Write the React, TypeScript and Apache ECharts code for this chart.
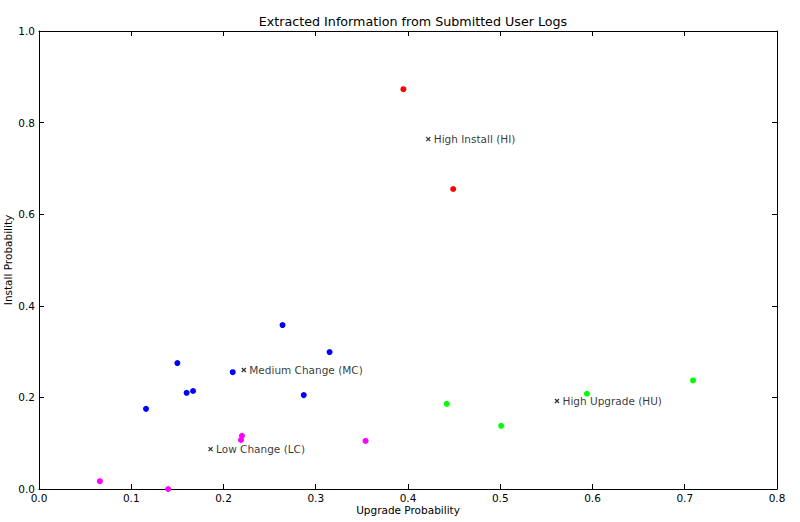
import React, { useEffect, useRef } from "react";
import * as echarts from "echarts";

const xTicks = [0, 0.1, 0.2, 0.3, 0.4, 0.5, 0.6, 0.7, 0.8];
const yTicks = [0, 0.2, 0.4, 0.6, 0.8, 1.0];

const highInstall: [number, number][] = [
  [0.395, 0.873],
  [0.449, 0.655],
];
const mediumChange: [number, number][] = [
  [0.116, 0.175],
  [0.15, 0.275],
  [0.16, 0.21],
  [0.167, 0.214],
  [0.21, 0.255],
  [0.264, 0.358],
  [0.287, 0.205],
  [0.315, 0.299],
];
const lowChange: [number, number][] = [
  [0.066, 0.017],
  [0.14, 0.0],
  [0.22, 0.116],
  [0.219, 0.107],
  [0.354, 0.105],
];
const highUpgrade: [number, number][] = [
  [0.442, 0.186],
  [0.501, 0.138],
  [0.594, 0.208],
  [0.709, 0.237],
];

const centroidNames = ["High Install (HI)", "Medium Change (MC)", "Low Change (LC)", "High Upgrade (HU)"];
const centroids: [number, number][] = [
  [0.422, 0.764],
  [0.222, 0.26],
  [0.186, 0.087],
  [0.5615, 0.192],
];

const FONT = "DejaVu Sans";

export default function App() {
  const ref = useRef<HTMLDivElement>(null);
  useEffect(() => {
    const chart = echarts.init(ref.current!, null, { renderer: "svg" });
    const axisLine = { show: true, onZero: false, lineStyle: { color: "#000", width: 1 } };
    const tick = { show: true, inside: true, length: 5, lineStyle: { color: "#000" } };
    const dotSeries = (data: [number, number][], color: string) => ({
      type: "scatter",
      data,
      symbol: "circle",
      symbolSize: 6,
      itemStyle: { color, opacity: 1 },
      xAxisIndex: 0,
      yAxisIndex: 0,
    });
    chart.setOption({
      animation: false,
      backgroundColor: "#fff",
      title: {
        text: "Extracted Information from Submitted User Logs",
        left: 408,
        textAlign: "center",
        top: 10,
        textStyle: { fontFamily: FONT, fontSize: 12.7, fontWeight: "normal", color: "#000" },
      },
      grid: { left: 39, right: 23, top: 31, bottom: 33, containLabel: false, outerBoundsMode: "none" },
      xAxis: [
        {
          type: "value",
          min: 0,
          max: 0.8,
          interval: 0.1,
          position: "bottom",
          name: "Upgrade Probability",
          nameLocation: "middle",
          nameGap: 15,
          nameMoveOverlap: false,
          nameTextStyle: { fontFamily: FONT, fontSize: 10.5, color: "#000" },
          axisLine,
          axisTick: tick,
          splitLine: { show: false },
          axisLabel: {
            fontFamily: FONT,
            fontSize: 10.5,
            color: "#000",
            margin: 3,
            formatter: (v: number) => {
              const t = xTicks.find((k) => Math.abs(k - v) < 1e-6);
              return t === undefined ? "" : t.toFixed(1);
            },
          },
        },
        {
          type: "value",
          min: 0,
          max: 0.8,
          interval: 0.1,
          position: "top",
          axisLine,
          axisTick: tick,
          axisLabel: { show: false },
          splitLine: { show: false },
        },
      ],
      yAxis: [
        {
          type: "value",
          min: 0,
          max: 1,
          interval: 0.2,
          position: "left",
          name: "Install Probability",
          nameLocation: "middle",
          nameGap: 26,
          nameMoveOverlap: false,
          nameRotate: 90,
          nameTextStyle: { fontFamily: FONT, fontSize: 10.5, color: "#000" },
          axisLine,
          axisTick: tick,
          splitLine: { show: false },
          axisLabel: {
            fontFamily: FONT,
            fontSize: 10.5,
            color: "#000",
            margin: 4,
            formatter: (v: number) => {
              const t = yTicks.find((k) => Math.abs(k - v) < 1e-6);
              return t === undefined ? "" : t.toFixed(1);
            },
          },
        },
        {
          type: "value",
          min: 0,
          max: 1,
          interval: 0.2,
          position: "right",
          axisLine,
          axisTick: tick,
          axisLabel: { show: false },
          splitLine: { show: false },
        },
      ],
      series: [
        dotSeries(highInstall, "#ff0000"),
        dotSeries(mediumChange, "#0000ff"),
        dotSeries(lowChange, "#ff00ff"),
        dotSeries(highUpgrade, "#00ff00"),
        {
          type: "scatter",
          data: centroids.map((c, i) => ({ value: c, name: centroidNames[i] })),
          symbol: "path://M0,0L10,10M10,0L0,10",
          symbolSize: 4,
          itemStyle: { color: "none", borderColor: "#000", borderWidth: 1.3 },
          label: {
            show: true,
            position: "right",
            distance: 1,
            formatter: (p: any) => p.name,
            fontFamily: FONT,
            fontSize: 10.5,
            color: "#000",
          },
          xAxisIndex: 0,
          yAxisIndex: 0,
        },
      ],
    });
    return () => chart.dispose();
  }, []);
  return (
    <div
      ref={ref}
      style={{ position: "fixed", left: 0, top: 0, width: 800, height: 522 }}
    />
  );
}
